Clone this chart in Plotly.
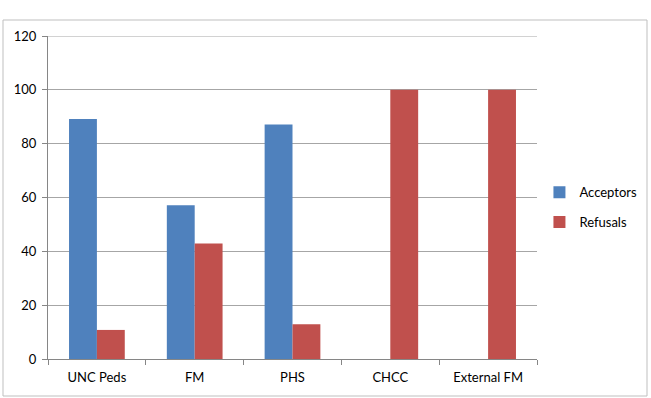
import plotly.graph_objects as go

categories = ["UNC Peds", "FM", "PHS", "CHCC", "External FM"]
acceptors = [89.2, 57.1, 87.1, 0, 0]
refusals = [10.8, 42.9, 12.9, 100, 100]
y_ticks = [0, 20, 40, 60, 80, 100, 120]

W, H = 651, 398
ml, mr, mt, mb = 48, 114, 36, 39

fig = go.Figure()
fig.add_trace(go.Bar(x=categories, y=acceptors, name="Acceptors", legendgroup="a",
                     marker=dict(color="#4F81BD", line=dict(width=0))))
fig.add_trace(go.Bar(x=categories, y=refusals, name="Refusals", legendgroup="r",
                     marker=dict(color="#C0504D", line=dict(width=0))))

pw = W - ml - mr
ph = H - mt - mb
fig.add_shape(type="rect", xref="paper", yref="paper",
              x0=(3 - ml) / pw, x1=(647 - ml) / pw,
              y0=(H - mb - 396) / ph, y1=(H - mb - 20) / ph,
              line=dict(color="#BFBFBF", width=1), layer="below")
fig.add_shape(type="line", xref="paper", yref="y", x0=0, x1=1, y0=120, y1=120,
              line=dict(color="#A6A6A6", width=1), layer="below")

fig.update_layout(
    width=W, height=H,
    margin=dict(l=ml, r=mr, t=mt, b=mb, autoexpand=False),
    paper_bgcolor="white", plot_bgcolor="white",
    barmode="group", bargap=0.43, bargroupgap=0,
    font=dict(family="Lato, Open Sans, sans-serif", size=13, color="#000000"),
    legend=dict(x=1.005, y=0.47, xanchor="left", yanchor="middle",
                traceorder="grouped", tracegroupgap=10,
                font=dict(size=13), bgcolor="rgba(0,0,0,0)"),
    showlegend=True,
)
fig.update_xaxes(type="category", tickson="boundaries", ticks="outside", ticklen=5,
                 tickcolor="#868686", showline=True, linecolor="#868686", linewidth=1,
                 showgrid=False, tickfont=dict(size=13), ticklabelstandoff=6)
fig.update_yaxes(range=[0, 120], tickvals=y_ticks, ticks="outside", ticklen=5,
                 tickcolor="#868686", showline=True, linecolor="#868686", linewidth=1,
                 showgrid=True, gridcolor="#A6A6A6", gridwidth=1, zeroline=False,
                 tickfont=dict(size=13), ticklabelstandoff=3)

fig.write_html("out.html")
